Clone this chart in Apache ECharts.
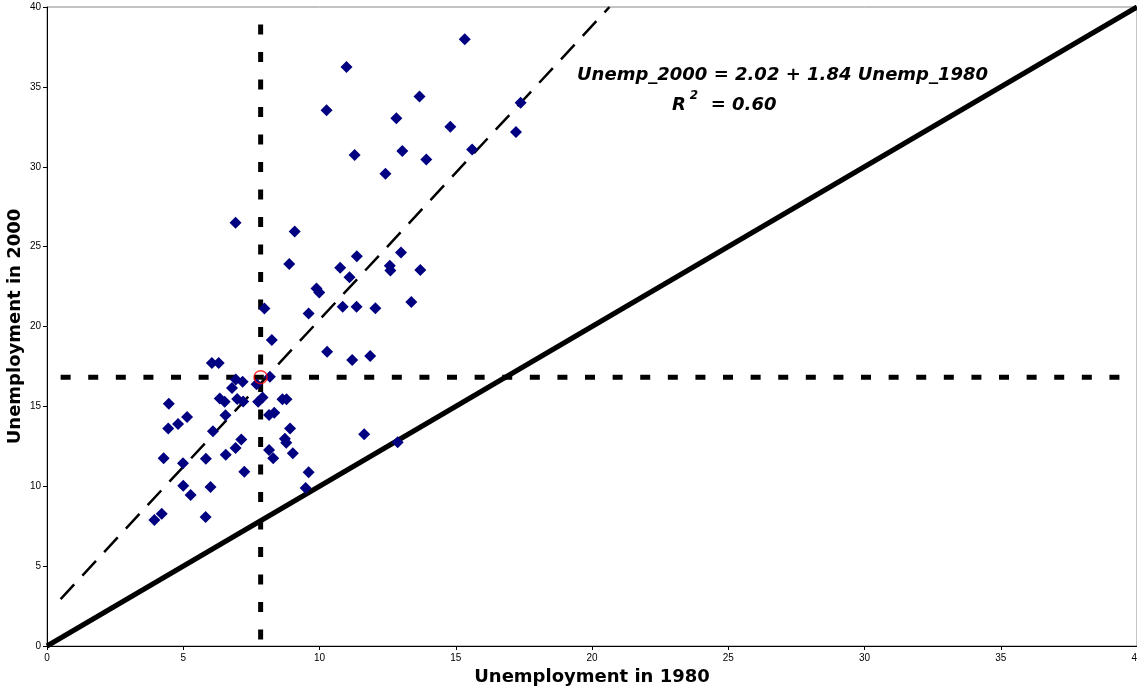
<!DOCTYPE html>
<html>
<head>
<meta charset="utf-8">
<title>Unemployment 1980 vs 2000</title>
<script src="https://cdn.jsdelivr.net/npm/echarts@6/dist/echarts.min.js"></script>
<style>
  html, body { margin: 0; padding: 0; background: #fff; }
  #chart { width: 1137px; height: 686px; }
</style>
</head>
<body>
<div id="chart"></div>
<script>
// Unemployment rate by region, 1980 (x) against 2000 (y)
const unemp1980 = [
  15.33, 10.99, 10.26, 13.67, 12.82, 14.80, 17.38, 17.21, 11.29, 13.04,
  13.92, 15.60, 12.42, 9.09, 8.89, 11.37, 10.76, 12.58, 12.60, 12.99,
  13.70, 11.10, 9.89, 9.99, 9.60, 10.85, 11.36, 12.05, 13.37, 6.92,
  7.98, 8.25, 10.28, 11.20, 11.86, 6.05, 6.30, 8.18, 6.93, 7.18,
  7.69, 6.79, 6.34, 6.52, 6.98, 7.20, 7.75, 7.91, 8.64, 8.79,
  4.47, 5.14, 4.81, 4.45, 6.55, 8.15, 8.34, 6.09, 8.92, 8.73,
  8.78, 7.13, 6.92, 6.56, 8.15, 8.30, 9.02, 4.28, 4.99, 5.83,
  7.24, 9.60, 5.00, 6.00, 5.27, 9.49, 4.21, 3.94, 5.82, 11.64,
  12.87
];
const unemp2000 = [
  37.98, 36.25, 33.54, 34.40, 33.04, 32.50, 34.00, 32.18, 30.73, 30.98,
  30.46, 31.08, 29.56, 25.95, 23.92, 24.39, 23.68, 23.80, 23.51, 24.64,
  23.53, 23.09, 22.38, 22.13, 20.82, 21.23, 21.23, 21.15, 21.53, 26.49,
  21.13, 19.15, 18.42, 17.90, 18.15, 17.71, 17.71, 16.85, 16.69, 16.54,
  16.38, 16.15, 15.50, 15.29, 15.46, 15.31, 15.29, 15.56, 15.44, 15.44,
  15.16, 14.33, 13.89, 13.62, 14.44, 14.46, 14.60, 13.45, 13.62, 12.97,
  12.72, 12.93, 12.39, 11.97, 12.27, 11.75, 12.06, 11.75, 11.44, 11.72,
  10.91, 10.87, 10.03, 9.95, 9.45, 9.89, 8.28, 7.89, 8.07, 13.26,
  12.75
];

// Fitted regression: Unemp_2000 = a + b * Unemp_1980
const fitIntercept = 2.02;
const fitSlope = 1.84;
const fitR2 = 0.60;
const fitXStart = 0.5;

// Sample means (centre of the scatter)
const meanX = 7.84;
const meanY = 16.83;

const axisMin = 0;
const axisMax = 40;
const axisStep = 5;

const points = unemp1980.map((x, i) => [x, unemp2000[i]]);
const fitXEnd = (axisMax - fitIntercept) / fitSlope;
const fitLine = [
  [fitXStart, fitIntercept + fitSlope * fitXStart],
  [fitXEnd, fitIntercept + fitSlope * fitXEnd]
];

const chart = echarts.init(document.getElementById('chart'), null, { renderer: 'canvas' });

const tickLabel = { fontFamily: 'Liberation Sans', fontSize: 10, color: '#000' };
const axisTitle = { fontFamily: 'DejaVu Sans', fontWeight: 'bold', fontSize: 18, color: '#000' };
const eqFont = { fontFamily: 'DejaVu Sans', fontWeight: 'bold', fontStyle: 'italic', fill: '#000' };

chart.setOption({
  animation: false,
  backgroundColor: '#fff',
  grid: {
    left: 47, right: 0, top: 7, bottom: 40,
    outerBoundsMode: 'none',
    containLabel: false,
    show: true, borderColor: '#888', borderWidth: 1, backgroundColor: 'transparent'
  },
  xAxis: {
    type: 'value', min: axisMin, max: axisMax, interval: axisStep,
    name: 'Unemployment in 1980', nameLocation: 'middle', nameGap: 22,
    nameMoveOverlap: false,
    nameTextStyle: axisTitle,
    axisLine: { show: true, onZero: false, lineStyle: { color: '#000', width: 1 } },
    axisTick: { show: true, length: 4, lineStyle: { color: '#000' } },
    axisLabel: Object.assign({ margin: 7, hideOverlap: false }, tickLabel),
    splitLine: { show: false }
  },
  yAxis: {
    type: 'value', min: axisMin, max: axisMax, interval: axisStep,
    name: 'Unemployment in 2000', nameLocation: 'middle', nameGap: 23,
    nameMoveOverlap: false,
    nameTextStyle: axisTitle,
    axisLine: { show: true, onZero: false, lineStyle: { color: '#000', width: 1 } },
    axisTick: { show: true, length: 4, lineStyle: { color: '#000' } },
    axisLabel: Object.assign({ margin: 6 }, tickLabel),
    splitLine: { show: false }
  },
  series: [
    {
      name: '45 degree line',
      type: 'line',
      data: [[axisMin, axisMin], [axisMax, axisMax]],
      symbol: 'none',
      lineStyle: { color: '#000', width: 5 },
      z: 2
    },
    {
      name: 'Fitted line',
      type: 'line',
      data: fitLine,
      symbol: 'none',
      lineStyle: { color: '#000', width: 2.5, type: [20, 12] },
      z: 2
    },
    {
      name: 'Mean 1980',
      type: 'line',
      data: [[meanX, 0.4], [meanX, 39.4]],
      symbol: 'none',
      lineStyle: { color: '#000', width: 5, type: [10, 17.5] },
      z: 2
    },
    {
      name: 'Mean 2000',
      type: 'line',
      data: [[0.5, meanY], [39.6, meanY]],
      symbol: 'none',
      lineStyle: { color: '#000', width: 5, type: [10, 17.6] },
      z: 2
    },
    {
      name: 'Regions',
      type: 'scatter',
      data: points,
      symbol: 'diamond',
      symbolSize: 12,
      itemStyle: { color: '#000080', opacity: 1 },
      z: 3
    },
    {
      name: 'Mean point',
      type: 'scatter',
      data: [[meanX, meanY]],
      symbol: 'circle',
      symbolSize: 13,
      itemStyle: { color: 'rgba(0,0,0,0)', borderColor: '#ff0000', borderWidth: 1.5 },
      z: 4
    }
  ],
  graphic: [
    {
      type: 'text',
      left: 577, top: 66,
      style: Object.assign({
        text: 'Unemp_2000 = ' + fitIntercept.toFixed(2) + ' + ' + fitSlope.toFixed(2) + ' Unemp_1980',
        fontSize: 18
      }, eqFont),
      z: 10
    },
    {
      type: 'text',
      left: 672, top: 90,
      style: {
        text: '{r|R}{s|2}{t|  = ' + fitR2.toFixed(2) + '}',
        rich: {
          r: Object.assign({ fontSize: 18, lineHeight: 24, verticalAlign: 'bottom' }, eqFont),
          s: Object.assign({ fontSize: 12, lineHeight: 24, verticalAlign: 'top', padding: [0, 0, 0, 4] }, eqFont),
          t: Object.assign({ fontSize: 18, lineHeight: 24, verticalAlign: 'bottom' }, eqFont)
        }
      },
      z: 10
    }
  ]
});
</script>
</body>
</html>
